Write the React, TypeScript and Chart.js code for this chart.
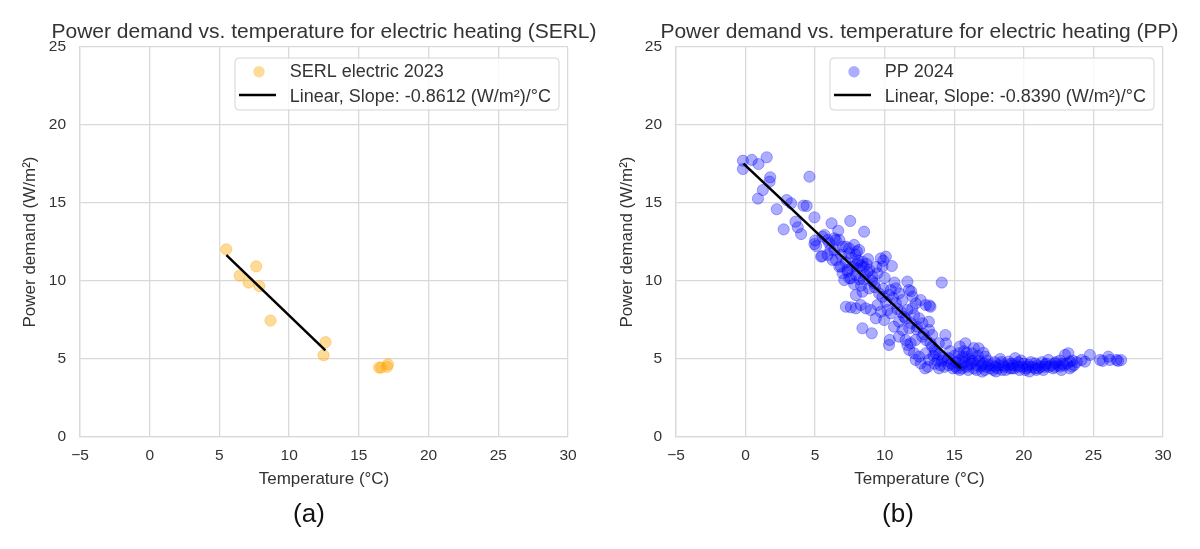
import { useEffect, useRef } from 'react';
import { Chart, registerables } from 'chart.js';

Chart.register(...registerables);

const FONT = '"Liberation Sans", Arial, Helvetica, sans-serif';
const INK = '#333333';
const GRID = '#d9d9d9';

const tempTicks = [-5, 0, 5, 10, 15, 20, 25, 30];
const demandTicks = [0, 5, 10, 15, 20, 25];

// SERL electric 2023
const serlTemp = [5.49, 6.45, 7.09, 7.64, 7.86, 8.66, 12.47, 12.61, 16.45, 16.6, 17.03, 17.08];
const serlDemand = [12.03, 10.35, 9.9, 10.94, 9.67, 7.46, 5.24, 6.08, 4.45, 4.45, 4.5, 4.66];
const serlFitTemp = [5.5, 12.6];
const serlFitDemand = [11.66, 5.55];

// PP 2024, [temperature, demand]
const ppPoints: [number, number][] = [
  [-0.19, 17.71], [-0.19, 17.18], [0.45, 17.76], [0.93, 17.5], [1.52, 17.93], [1.77, 16.65], [1.72, 16.37],
  [1.24, 15.83], [0.89, 15.28], [4.59, 16.69], [2.24, 14.6], [2.74, 13.31], [2.96, 15.19], [3.27, 14.98],
  [4.16, 14.83], [4.39, 14.81], [4.95, 14.08], [3.59, 13.8], [3.75, 13.44], [3.99, 13.01],
  [6.18, 13.7], [6.66, 13.22], [7.52, 13.85], [4.95, 12.37], [5.07, 12.24], [5.43, 11.56], [5.67, 12.95],
  [5.9, 12.63], [6.38, 12.74], [6.74, 12.63], [6.38, 11.99], [6.86, 11.67], [7.21, 12.2], [7.45, 11.78],
  [6.5, 11.35], [6.86, 10.92], [7.33, 10.6], [7.45, 10.17], [5.0, 12.6], [5.5, 11.6],
  [8.52, 13.16], [5.53, 12.84], [6.01, 12.42], [6.49, 12.63], [6.97, 12.2], [7.44, 12.1], [7.8, 12.31],
  [8.16, 11.99], [8.4, 11.24], [8.04, 11.13], [7.69, 10.92], [7.33, 10.71], [6.97, 10.49], [6.73, 10.92],
  [6.25, 11.35], [5.9, 11.67], [7.09, 10.06], [7.57, 10.17], [7.93, 10.38], [8.76, 10.6], [9.12, 10.28],
  [9.48, 10.49], [9.72, 11.45], [10.08, 11.56], [10.51, 10.96], [9.84, 10.92], [9.24, 9.85], [8.88, 9.53],
  [8.4, 9.31], [7.93, 9.1], [7.21, 8.35], [7.57, 8.31], [7.93, 8.25], [8.28, 8.46], [8.64, 8.25], [9.0, 8.14],
  [9.48, 8.46], [9.84, 8.99], [10.08, 8.67], [10.44, 9.42], [10.8, 9.53], [11.04, 9.21], [11.63, 9.96],
  [11.74, 9.42], [11.26, 8.78], [10.8, 8.57], [10.44, 7.93], [10.2, 8.14], [9.72, 8.03], [9.36, 7.61],
  [9.96, 7.5], [8.4, 6.97], [9.07, 6.65], [10.31, 5.9], [10.36, 6.22], [10.67, 7.07], [11.03, 7.39],
  [11.39, 7.71], [11.63, 8.14], [11.99, 8.25], [12.23, 8.57], [12.58, 8.78], [12.94, 8.46], [12.11, 7.82],
  [12.47, 7.61], [12.71, 7.29], [12.35, 7.07], [11.76, 6.97], [11.27, 6.86], [11.03, 6.43], [11.5, 6.22],
  [11.86, 6.01], [12.22, 6.22], [12.7, 6.43], [13.18, 6.86], [11.76, 5.58], [12.11, 5.37], [12.47, 5.15],
  [12.95, 5.37], [13.19, 4.94], [12.59, 4.72], [12.23, 4.94], [11.63, 5.9], [13.41, 5.79],
  [14.1, 9.9], [13.22, 8.43], [12.0, 9.0], [11.9, 9.34], [9.9, 11.3],
  [7.6, 11.5], [7.9, 11.7], [8.1, 11.3], [8.3, 11.0], [8.0, 10.8], [8.5, 10.9], [8.7, 11.1], [8.9, 10.7],
  [8.6, 10.4], [8.2, 10.1], [7.8, 9.8], [8.3, 9.7], [9.1, 10.0], [9.3, 9.6], [9.6, 9.2], [9.9, 9.5],
  [10.3, 9.1], [10.6, 8.9], [10.9, 8.2], [11.2, 8.0], [11.5, 7.6], [11.9, 7.3], [12.3, 6.9], [12.8, 6.6],
  [13.0, 6.2], [13.3, 6.0], [13.6, 5.6], [13.9, 5.3], [14.2, 5.1], [14.5, 4.9], [14.8, 4.7], [13.5, 5.2],
  [13.8, 4.9], [14.0, 4.6], [13.1, 4.5], [14.4, 6.0], [14.7, 5.5], [15.0, 5.2], [15.3, 4.9], [15.5, 4.6],
  [15.2, 4.4], [14.1, 4.9], [14.3, 4.5], [14.9, 4.4], [15.1, 4.8], [15.4, 4.3], [13.6, 4.7], [12.9, 4.4],
  [13.29, 8.35], [13.17, 7.39], [13.41, 6.54], [14.36, 6.54], [15.8, 6.01], [16.75, 5.69], [13.89, 6.01],
  [13.65, 5.37], [14.6, 5.05], [15.08, 4.51], [15.56, 4.4], [16.03, 4.62], [15.33, 5.37], [15.8, 5.15],
  [16.28, 5.37], [16.51, 4.94], [17.23, 5.15], [17.47, 4.62], [17.95, 4.51], [17.0, 4.19], [18.43, 4.3],
  [18.9, 4.83], [19.38, 5.05], [19.14, 4.4], [19.62, 4.51], [20.1, 4.3], [20.33, 4.62], [20.81, 4.72],
  [21.05, 4.4], [21.53, 4.62], [21.76, 4.94], [22.24, 4.72], [22.6, 4.51], [22.96, 5.26], [23.2, 5.37],
  [23.32, 4.83], [23.44, 4.51], [24.15, 4.94], [24.39, 4.83], [24.75, 5.26], [25.47, 4.94], [26.07, 5.15],
  [26.19, 4.94], [26.66, 4.94], [26.99, 4.93], [26.77, 4.88], [25.67, 4.88],
  [15.7, 4.8], [15.9, 4.5], [16.1, 5.0], [16.2, 4.7], [16.4, 4.4], [16.6, 4.6], [16.8, 4.9], [16.9, 4.5],
  [17.1, 4.7], [17.2, 4.3], [17.4, 4.9], [17.6, 4.4], [17.7, 4.6], [17.9, 4.8], [18.1, 4.4], [18.2, 4.6],
  [18.4, 4.8], [18.6, 4.5], [18.7, 4.3], [18.9, 4.6], [19.1, 4.7], [19.3, 4.4], [19.5, 4.6], [19.7, 4.3],
  [19.9, 4.5], [20.0, 4.7], [20.2, 4.4], [20.4, 4.2], [20.6, 4.5], [20.8, 4.4], [21.0, 4.6], [21.2, 4.5],
  [21.4, 4.3], [21.6, 4.7], [21.8, 4.5], [22.0, 4.6], [22.1, 4.4], [22.3, 4.8], [22.5, 4.6], [22.7, 4.3],
  [22.9, 4.6], [23.1, 4.7], [23.3, 4.4], [23.6, 4.6], [23.8, 4.8], [16.0, 4.3], [17.0, 4.6], [18.0, 4.2],
  [19.0, 4.4], [20.5, 4.8], [21.3, 4.8], [22.6, 4.9], [15.9, 5.4], [16.4, 5.7], [17.1, 5.4], [16.7, 5.2],
  [18.3, 5.0], [19.8, 4.9], [15.4, 5.8], [15.7, 5.5],
  [15.6, 5.1], [16.3, 4.9], [17.3, 4.5], [17.8, 4.3], [18.5, 4.6], [19.2, 4.6], [19.6, 4.8], [20.3, 4.5],
  [20.9, 4.3], [21.5, 4.5], [22.2, 4.5], [22.8, 4.7], [23.5, 4.9], [16.6, 4.3], [14.6, 4.6], [13.9, 4.4],
  [8.0, 11.9], [8.8, 11.4], [7.2, 11.2], [9.4, 10.9], [10.0, 10.2], [10.7, 9.9], [8.5, 10.1], [6.1, 12.0],
];
const ppFitTemp = [-0.15, 15.5];
const ppFitDemand = [17.52, 4.38];

type Pt = { x: number; y: number };

interface PanelProps {
  title: string;
  sub: string;
  subX: number;
  pointLabel: string;
  fitLabel: string;
  points: Pt[];
  fit: Pt[];
  color: string;
  left: number;
  plotLeft: number;
  plotRight: number;
  yTitleX: number;
}

const tickLabel = (v: string | number) => {
  const n = Number(v);
  return n < 0 ? '\u2212' + Math.abs(n) : String(n);
};

function Panel(p: PanelProps) {
  const ref = useRef<HTMLCanvasElement>(null);
  const chartRef = useRef<Chart | null>(null);

  useEffect(() => {
    if (!ref.current) return;

    const decor = {
      id: 'decor',
      afterDraw(chart: Chart) {
        const { ctx, chartArea: a } = chart;
        ctx.save();
        ctx.fillStyle = INK;
        ctx.textAlign = 'center';
        ctx.textBaseline = 'alphabetic';
        ctx.font = `21px ${FONT}`;
        ctx.fillText(p.title, (a.left + a.right) / 2, 38);
        ctx.font = `26px ${FONT}`;
        ctx.fillStyle = '#111';
        ctx.fillText(p.sub, p.subX, 522);

        // legend box, upper right
        ctx.font = `18px ${FONT}`;
        const tw = Math.max(ctx.measureText(p.pointLabel).width, ctx.measureText(p.fitLabel).width);
        const bw = 54.7 + tw + 8;
        const bx = a.right - 9 - bw;
        const by = 58;
        ctx.beginPath();
        ctx.roundRect(bx, by, bw, 52, 4);
        ctx.fillStyle = 'rgba(255,255,255,0.8)';
        ctx.fill();
        ctx.strokeStyle = '#d4d4d4';
        ctx.lineWidth = 1;
        ctx.stroke();
        ctx.beginPath();
        ctx.arc(bx + 24, by + 13.7, 5.7, 0, Math.PI * 2);
        ctx.fillStyle = p.color;
        ctx.fill();
        ctx.beginPath();
        ctx.moveTo(bx + 4, by + 37);
        ctx.lineTo(bx + 41, by + 37);
        ctx.strokeStyle = '#000';
        ctx.lineWidth = 2.5;
        ctx.stroke();
        ctx.fillStyle = INK;
        ctx.textAlign = 'left';
        ctx.fillText(p.pointLabel, bx + 54.7, by + 18.7);
        ctx.fillText(p.fitLabel, bx + 54.7, by + 43.7);
        ctx.restore();
      },
    };

    chartRef.current?.destroy();
    chartRef.current = new Chart(ref.current, {
      type: 'scatter',
      data: {
        datasets: [
          {
            type: 'line',
            label: p.fitLabel,
            data: p.fit,
            borderColor: '#000',
            borderWidth: 2.5,
            pointRadius: 0,
            order: 0,
          },
          {
            label: p.pointLabel,
            data: p.points,
            backgroundColor: p.color,
            borderColor: p.color,
            borderWidth: 1,
            pointRadius: 5.6,
            order: 1,
          },
        ],
      },
      options: {
        responsive: false,
        animation: false,
        events: [],
        layout: { padding: { top: 47, right: 600 - p.plotRight, left: 0, bottom: 0 } },
        plugins: { legend: { display: false }, tooltip: { enabled: false }, title: { display: false } },
        scales: {
          x: {
            type: 'linear',
            min: -5,
            max: 30,
            afterBuildTicks: (s: any) => { s.ticks = tempTicks.map((v) => ({ value: v })); },
            afterFit: (s: any) => { s.height = 112; },
            grid: { color: GRID, lineWidth: 1.3, drawTicks: false },
            border: { display: true, color: GRID, width: 1.3 },
            ticks: { padding: 9, color: INK, font: { family: FONT, size: 15.5 }, callback: tickLabel },
            title: {
              display: true,
              text: 'Temperature (°C)',
              color: INK,
              font: { family: FONT, size: 17 },
              padding: { top: 0, bottom: 59.8 },
            },
          },
          y: {
            type: 'linear',
            min: 0,
            max: 25,
            afterBuildTicks: (s: any) => { s.ticks = demandTicks.map((v) => ({ value: v })); },
            afterFit: (s: any) => { s.width = p.plotLeft; },
            grid: { color: GRID, lineWidth: 1.3, drawTicks: false },
            border: { display: true, color: GRID, width: 1.3 },
            ticks: { padding: 14, color: INK, font: { family: FONT, size: 15.5 }, callback: tickLabel },
            title: {
              display: true,
              text: 'Power demand (W/m²)',
              color: INK,
              font: { family: FONT, size: 17 },
              padding: { top: p.yTitleX - 10.2, bottom: 0 },
            },
          },
        },
      },
      plugins: [decor],
    });
    return () => { chartRef.current?.destroy(); };
  }, []);

  return (
    <div style={{ position: 'absolute', left: p.left, top: 0, width: 600, height: 549 }}>
      <canvas ref={ref} width={600} height={549} />
    </div>
  );
}

export default function App() {
  useEffect(() => {
    document.body.style.margin = '0';
    document.body.style.background = '#fff';
  }, []);

  const serlPoints = serlTemp.map((x, i) => ({ x, y: serlDemand[i] }));
  const serlFit = serlFitTemp.map((x, i) => ({ x, y: serlFitDemand[i] }));
  const pp = ppPoints.map(([x, y]) => ({ x, y }));
  const ppFit = ppFitTemp.map((x, i) => ({ x, y: ppFitDemand[i] }));

  return (
    <div style={{ position: 'relative', width: 1200, height: 549, background: '#fff' }}>
      <Panel
        title="Power demand vs. temperature for electric heating (SERL)"
        sub="(a)"
        subX={309}
        pointLabel="SERL electric 2023"
        fitLabel="Linear, Slope: -0.8612 (W/m²)/°C"
        points={serlPoints}
        fit={serlFit}
        color="rgba(255,165,0,0.4)"
        left={0}
        plotLeft={80}
        plotRight={568}
        yTitleX={30}
      />
      <Panel
        title="Power demand vs. temperature for electric heating (PP)"
        sub="(b)"
        subX={298}
        pointLabel="PP 2024"
        fitLabel="Linear, Slope: -0.8390 (W/m²)/°C"
        points={pp}
        fit={ppFit}
        color="rgba(0,0,255,0.32)"
        left={600}
        plotLeft={76}
        plotRight={563}
        yTitleX={27}
      />
    </div>
  );
}
